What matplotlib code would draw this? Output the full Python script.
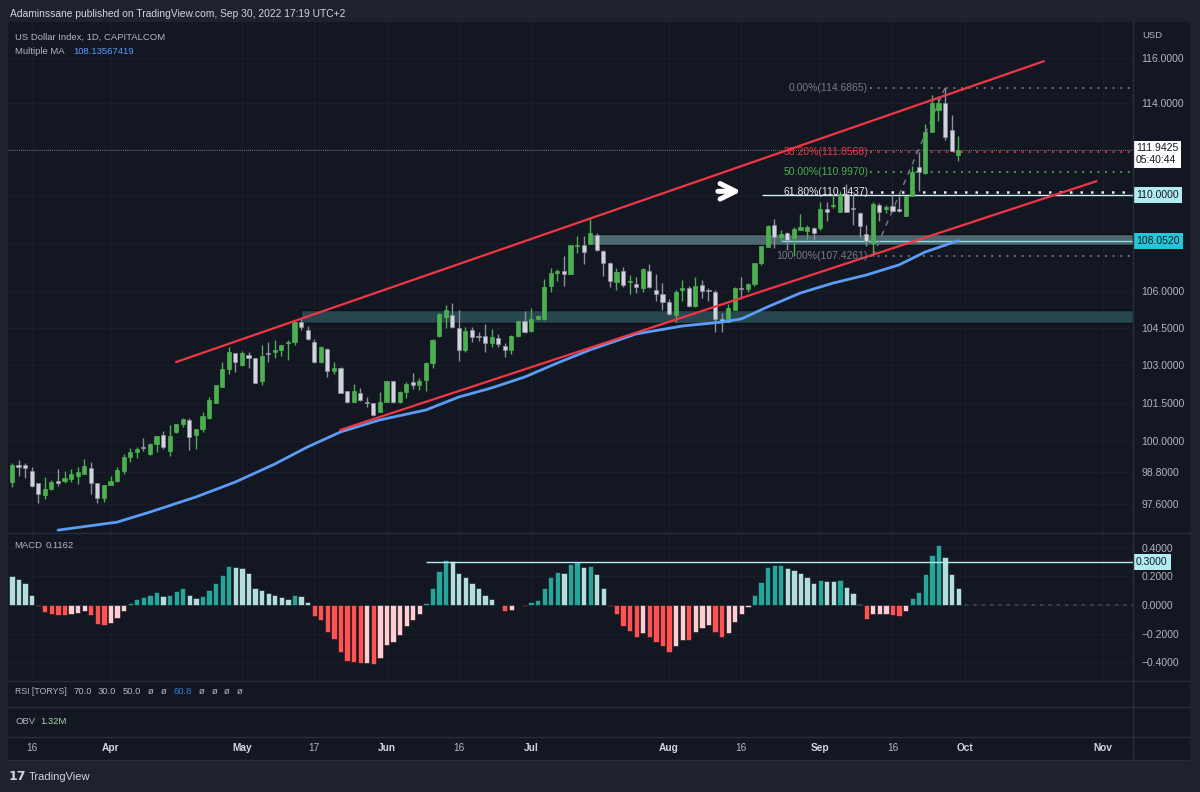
import matplotlib
matplotlib.use('Agg')
import matplotlib.pyplot as plt
import matplotlib.transforms as mtransforms
from matplotlib.patches import Rectangle
from matplotlib.lines import Line2D
from matplotlib.ticker import NullLocator
import pandas as pd

plt.rcParams['font.family'] = ['Liberation Sans', 'DejaVu Sans']

# ---- daily candles, US Dollar Index (CAPITALCOM), 11 Mar - 30 Sep 2022 ----
opens = [98.42, 99.07, 99.07, 98.84, 98.38, 97.93, 98.16, 98.46, 98.46, 98.54,
         98.65, 98.73, 98.96, 98.38, 97.81, 98.31, 98.46, 98.84, 99.38, 99.57,
         99.77, 99.5, 99.88, 100.23, 99.61, 100.35, 100.66, 100.82, 100.23, 100.47,
         100.9, 101.5, 102.12, 102.84, 103.48, 103.0, 103.4, 103.28, 102.36, 103.48,
         103.52, 103.6, 103.88, 103.92, 104.72, 104.4, 103.92, 103.1, 103.64, 102.76,
         102.88, 101.96, 101.52, 101.88, 101.52, 101.48, 101.14, 101.52, 102.36, 101.52,
         101.92, 102.32, 102.2, 102.4, 103.08, 104.16, 104.92, 105.0, 104.48, 103.6,
         104.4, 104.16, 104.16, 103.88, 104.08, 103.76, 103.6, 104.16, 104.76, 104.36,
         104.84, 104.84, 106.2, 106.74, 106.82, 106.7, 107.84, 107.9, 107.95, 108.32,
         107.66, 107.16, 106.36, 106.82, 106.36, 106.28, 106.12, 106.82, 106.03, 105.86,
         105.52, 105.0, 106.03, 106.12, 105.36, 106.24, 106.03, 105.94, 104.84, 104.72,
         105.2, 106.12, 106.07, 106.28, 107.16, 107.82, 108.75, 108.24, 108.4, 108.2,
         108.55, 108.5, 108.62, 108.62, 109.4, 109.53, 109.3, 110.04, 109.44, 109.26,
         108.36, 107.98, 109.58, 109.4, 109.53, 109.4, 109.13, 109.96, 111.2, 110.94,
         112.72, 113.7, 114.0, 112.84, 111.75]
highs = [99.15, 99.27, 99.15, 99.0, 98.38, 98.61, 98.5, 98.92, 98.84, 98.92,
         99.0, 99.3, 99.19, 98.38, 98.31, 98.65, 99.0, 99.5, 99.73, 99.77,
         100.12, 99.92, 100.2, 100.39, 100.62, 100.66, 100.9, 100.9, 100.47, 101.13,
         101.72, 102.2, 103.1, 103.7, 103.48, 103.56, 103.52, 103.28, 103.8, 103.92,
         104.0, 103.8, 104.0, 104.72, 104.9, 104.56, 104.04, 103.76, 103.68, 103.12,
         102.92, 101.96, 102.24, 102.08, 101.72, 101.48, 101.92, 102.36, 102.36, 101.96,
         102.32, 102.68, 102.48, 103.12, 104.04, 105.08, 105.4, 105.5, 105.2, 104.52,
         104.52, 104.3, 104.64, 104.44, 104.24, 103.88, 104.2, 104.76, 105.16, 105.28,
         105.0, 106.5, 106.95, 106.9, 107.45, 107.9, 108.28, 108.28, 109.0, 108.4,
         107.7, 107.2, 106.95, 106.98, 106.66, 106.57, 106.95, 107.12, 106.7, 106.32,
         105.68, 106.03, 106.45, 106.2, 106.57, 106.45, 106.12, 106.03, 105.08, 105.44,
         106.16, 106.57, 106.32, 107.16, 107.86, 108.75, 109.0, 108.55, 108.45, 108.66,
         109.2, 108.75, 108.66, 109.7, 109.7, 110.0, 110.17, 110.5, 110.0, 109.3,
         108.75, 109.7, 109.66, 109.58, 110.0, 109.96, 109.96, 111.25, 111.85, 113.1,
         114.35, 114.3, 114.69, 113.5, 112.56]
lows = [98.23, 98.65, 98.58, 98.23, 97.62, 97.78, 98.12, 98.27, 98.38, 98.42,
        98.35, 98.73, 97.96, 97.62, 97.66, 98.31, 98.42, 98.73, 99.19, 99.34,
        99.61, 99.46, 99.57, 99.69, 99.42, 100.31, 100.55, 99.65, 99.69, 100.35,
        100.86, 101.48, 102.12, 102.64, 102.72, 102.95, 102.88, 102.28, 102.2, 103.1,
        103.28, 103.36, 103.2, 103.8, 104.4, 104.0, 103.08, 103.08, 102.52, 102.64,
        101.88, 101.48, 101.52, 101.56, 101.32, 100.98, 101.14, 101.52, 101.48, 101.48,
        101.68, 102.04, 102.0, 101.96, 102.88, 104.12, 104.48, 104.48, 103.15, 103.52,
        103.92, 103.96, 103.52, 103.72, 103.72, 103.32, 103.44, 104.1, 104.28, 104.32,
        104.8, 104.8, 105.95, 106.4, 106.2, 106.7, 107.55, 107.12, 107.95, 107.66,
        106.6, 106.16, 106.03, 106.16, 105.86, 105.9, 105.95, 106.12, 105.6, 105.2,
        105.0, 104.72, 105.6, 105.32, 105.32, 105.7, 105.6, 104.32, 104.32, 104.72,
        105.2, 105.68, 105.94, 106.2, 107.08, 107.82, 107.78, 108.07, 107.7, 107.45,
        108.55, 108.07, 108.12, 108.55, 108.92, 109.48, 109.3, 109.3, 108.75, 108.24,
        107.86, 107.43, 108.92, 109.26, 109.3, 109.3, 109.13, 109.96, 110.2, 110.9,
        112.72, 113.2, 112.4, 111.9, 111.48]
closes = [99.07, 99.0, 98.96, 98.27, 97.96, 98.16, 98.42, 98.38, 98.58, 98.73,
          98.8, 99.04, 98.38, 97.81, 98.31, 98.46, 98.88, 99.38, 99.57, 99.69,
          99.73, 99.88, 100.2, 99.77, 100.2, 100.66, 100.86, 100.16, 100.47, 100.98,
          101.6, 102.2, 102.84, 103.52, 103.1, 103.48, 103.28, 102.28, 103.36, 103.44,
          103.6, 103.8, 103.92, 104.72, 104.52, 104.04, 103.1, 103.72, 102.76, 102.88,
          101.88, 101.52, 101.96, 101.6, 101.48, 101.0, 101.52, 102.36, 101.52, 101.92,
          102.24, 102.2, 102.36, 103.08, 104.0, 105.04, 105.2, 104.52, 103.6, 104.36,
          104.12, 104.12, 103.88, 104.12, 103.84, 103.6, 104.16, 104.76, 104.32, 104.84,
          104.96, 106.16, 106.74, 106.82, 106.7, 107.9, 107.88, 107.62, 108.4, 107.7,
          107.16, 106.4, 106.78, 106.24, 106.41, 106.16, 106.9, 106.16, 105.86, 105.52,
          105.04, 105.94, 106.12, 105.36, 106.2, 106.0, 105.99, 104.84, 104.72, 105.28,
          106.12, 106.07, 106.28, 107.16, 107.86, 108.7, 108.24, 108.36, 108.12, 108.56,
          108.66, 108.66, 108.4, 109.4, 109.3, 109.58, 110.04, 109.3, 109.4, 108.7,
          108.07, 109.62, 109.3, 109.5, 109.35, 109.35, 109.96, 111.0, 111.0, 112.72,
          114.0, 114.0, 112.5, 111.9, 111.94]

# Multiple MA line, read at a few bars
ma_idx = [7, 16, 21, 28, 34, 40, 45, 50, 56, 63, 68, 73, 78, 83, 88, 95,
          102, 108, 111, 115, 120, 125, 130, 135, 139, 144]
ma_val = [96.6, 96.9, 97.28, 97.85, 98.42, 99.11, 99.77, 100.35, 100.82, 101.21,
          101.72, 102.08, 102.51, 103.07, 103.6, 104.24, 104.56, 104.72, 104.85,
          105.34, 105.91, 106.32, 106.65, 107.07, 107.61, 108.08]

# MACD histogram per bar
macd_hist = [0.201, 0.183, 0.152, 0.073, -0.005, -0.047, -0.063, -0.07, -0.072, -0.063,
             -0.059, -0.04, -0.07, -0.133, -0.138, -0.126, -0.091, -0.04, 0.012, 0.042,
             0.056, 0.073, 0.091, 0.066, 0.073, 0.096, 0.117, 0.073, 0.051, 0.066,
             0.105, 0.154, 0.211, 0.276, 0.264, 0.26, 0.225, 0.119, 0.108, 0.087,
             0.07, 0.056, 0.042, 0.073, 0.061, 0.019, -0.08, -0.105, -0.192, -0.239,
             -0.328, -0.395, -0.398, -0.41, -0.405, -0.414, -0.372, -0.281, -0.257, -0.211,
             -0.15, -0.103, -0.066, 0.012, 0.117, 0.241, 0.316, 0.307, 0.222, 0.194,
             0.154, 0.117, 0.068, 0.042, 0.002, -0.04, -0.035, 0.002, -0.007, 0.019,
             0.033, 0.117, 0.194, 0.229, 0.225, 0.285, 0.3, 0.269, 0.274, 0.215,
             0.119, -0.005, -0.063, -0.145, -0.185, -0.222, -0.199, -0.227, -0.257, -0.285,
             -0.328, -0.285, -0.243, -0.246, -0.192, -0.159, -0.14, -0.187, -0.222, -0.199,
             -0.122, -0.063, -0.016, 0.07, 0.159, 0.264, 0.283, 0.284, 0.257, 0.248,
             0.225, 0.194, 0.152, 0.175, 0.168, 0.166, 0.175, 0.124, 0.084, 0.007,
             -0.098, -0.063, -0.062, -0.061, -0.07, -0.075, -0.044, 0.047, 0.089, 0.218,
             0.353, 0.421, 0.334, 0.218, 0.117]

# drawings
upper_line_idx = [25, 157]
upper_line_val = [103.11, 115.87]
lower_line_idx = [50, 165]
lower_line_val = [100.43, 110.6]
zone_start = [44, 88]
zone_low = [104.67, 107.9]
zone_high = [105.2, 108.36]
fib_labels = ['0.00%(114.6865)', '38.20%(111.8568)', '50.00%(110.9970)',
              '61.80%(110.1437)', '100.00%(107.4261)']
fib_values = [114.6865, 111.8568, 110.9970, 110.1437, 107.4261]
fib_colors = ['#787b86', '#f23645', '#4caf50', '#e8e9ed', '#787b86']
last_price = 111.9425
level_110 = 110.0
level_108 = 108.052
macd_level = 0.3

price_ticks = [97.6, 98.8, 100.0, 101.5, 103.0, 104.5, 106.0, 114.0, 116.0]
macd_ticks = [-0.4, -0.2, 0.0, 0.2, 0.4]
tick_dates = ['2022-03-16', '2022-04-01', '2022-05-02', '2022-05-17', '2022-06-01',
              '2022-06-16', '2022-07-01', '2022-08-01', '2022-08-16', '2022-09-01',
              '2022-09-16', '2022-10-03', '2022-11-01']
tick_labels = ['16', 'Apr', 'May', '17', 'Jun', '16', 'Jul', 'Aug', '16', 'Sep', '16', 'Oct', 'Nov']

# ---- colours ----
BG = '#131722'
OUTER = '#1e222d'
SEP = '#2a2e39'
TXT = '#b2b5be'
UP = '#4caf50'
DOWN = '#d1d4dc'
DOWN_EDGE = '#8d909a'
RED = '#f23645'
BLUE = '#5b9cf6'
FS = 6.8  # small legend text

W, H = 1200, 792


def fx(x):
    return x / W


def fy(y):
    return 1 - y / H


def rect(x0, y0, x1, y1):
    return [fx(x0), fy(y1), (x1 - x0) / W, (y1 - y0) / H]


days = pd.bdate_range('2022-03-11', '2022-11-30')
days = days[days != pd.Timestamp('2022-04-15')]
n = len(closes)
xs = list(range(n))
xmin, xmax = -0.6, 170.6

fig = plt.figure(figsize=(12, 7.92), dpi=100, facecolor=OUTER)
fig.add_artist(Rectangle((fx(8), fy(760)), fx(1190) - fx(8), fy(22) - fy(760),
                         transform=fig.transFigure, facecolor=BG, edgecolor='none', zorder=0))

ax = fig.add_axes(rect(8, 22, 1133, 532))
axm = fig.add_axes(rect(8, 533, 1133, 680), sharex=ax)
for a in (ax, axm):
    a.set_facecolor(BG)
    for s in a.spines.values():
        s.set_visible(False)
    a.yaxis.tick_right()
    a.tick_params(axis='y', length=0, pad=6, labelsize=7.5, labelcolor=TXT)
    a.tick_params(axis='x', length=0, labelbottom=False)

# ---- main price panel ----
ax.set_yscale('log')
ax.set_xlim(xmin, xmax)
ax.set_ylim(96.53, 117.65)
ax.yaxis.set_minor_locator(NullLocator())
ax.set_yticks(price_ticks)
ax.set_yticklabels(['%.4f' % v for v in price_ticks])

tick_pos = [days.get_loc(pd.Timestamp(d)) for d in tick_dates]
for p in tick_pos:
    ax.axvline(p, color='#1a1e2a', lw=0.8, zorder=0)
    axm.axvline(p, color='#1a1e2a', lw=0.8, zorder=0)
for v in price_ticks + [108.0, 110.0, 112.0]:
    ax.axhline(v, color='#1a1e2a', lw=0.8, zorder=0)

# zones
for s, lo, hi, fc in zip(zone_start, zone_low, zone_high, ['#27464f', '#4d6870']):
    ax.add_patch(Rectangle((s, lo), xmax - s, hi - lo, facecolor=fc,
                           edgecolor='#0c1014', lw=1.0, zorder=1))

# candles
for i in xs:
    o, h, l, c = opens[i], highs[i], lows[i], closes[i]
    up = c >= o
    ax.vlines(i, l, h, color=UP if up else DOWN_EDGE, lw=1.0, zorder=3)
    lo = min(o, c)
    hgt = max(abs(c - o), 0.03)
    ax.bar(i, hgt, bottom=lo, width=0.62, color=UP if up else DOWN,
           edgecolor=UP if up else DOWN_EDGE, lw=0.5, zorder=4)

# moving average and channel
ax.plot(ma_idx, ma_val, color=BLUE, lw=2.0, zorder=5, solid_capstyle='round')
ax.plot(upper_line_idx, upper_line_val, color=RED, lw=1.6, zorder=5)
ax.plot(lower_line_idx, lower_line_val, color=RED, lw=1.6, zorder=5)

# horizontal levels
ax.hlines(level_110, 114.2, xmax, color='#c9eef3', lw=1.0, zorder=2)
ax.hlines(level_108, 117, xmax, color='#8fd8e3', lw=1.0, zorder=2)
ax.axhline(last_price, color='#9598a1', lw=0.6, ls=(0, (1, 1.5)), zorder=2)

# fibonacci retracement
fib_x0 = 130.6
for lab, v, col in zip(fib_labels, fib_values, fib_colors):
    big = lab.startswith('61.80')
    ax.hlines(v, fib_x0, xmax, color=col, lw=1.8 if big else 1.3,
              linestyles=(0, (1, 3.2)), zorder=2)
    ax.text(fib_x0 - 0.3, v, lab, color=col, fontsize=7.5, ha='right', va='center', zorder=6)
ax.plot([131, 142], [fib_values[4], fib_values[0]], color='#787b86', lw=1.0,
        ls=(0, (4, 4)), zorder=3)

# arrow
ax.annotate('', xy=(111.4, 110.17), xytext=(107.0, 110.17),
            arrowprops=dict(arrowstyle='->', color='white', lw=3.6, mutation_scale=28),
            zorder=7)

# price axis tags
tagx = mtransforms.blended_transform_factory(fig.transFigure, ax.transData)
ax.text(fx(1136), 112.25, '111.9425\n05:40:44', transform=tagx, fontsize=7.5,
        color='#131722', va='top', ha='left', linespacing=1.25,
        bbox=dict(boxstyle='square,pad=0.25', fc='white', ec='none'), clip_on=False)
ax.text(fx(1136), level_110, '110.0000', transform=tagx, fontsize=7.5, color='#131722',
        va='center', ha='left', bbox=dict(boxstyle='square,pad=0.3', fc='#b2ebf2', ec='none'),
        clip_on=False)
ax.text(fx(1136), level_108, '108.0520', transform=tagx, fontsize=7.5, color='#131722',
        va='center', ha='left', bbox=dict(boxstyle='square,pad=0.3', fc='#26c6da', ec='none'),
        clip_on=False)

# ---- MACD panel ----
axm.set_ylim(-0.526, 0.505)
axm.set_yticks(macd_ticks)
axm.set_yticklabels([('%.4f' % v).replace('-', '\u2212') for v in macd_ticks])
for v in macd_ticks:
    axm.axhline(v, color='#1a1e2a', lw=0.8, zorder=0)
cols = []
for i, v in enumerate(macd_hist):
    prev = macd_hist[i - 1] if i > 0 else v
    if v >= 0:
        cols.append('#26a69a' if v > prev else '#b2dfdb')
    else:
        cols.append('#ff5252' if v < prev else '#ffcdd2')
axm.bar(xs, macd_hist, width=0.82, color=cols, edgecolor='#0f1218', lw=0.4, zorder=3)
axm.hlines(macd_level, 63, xmax, color='#b2ebf2', lw=1.0, zorder=4)
axm.hlines(0, n, xmax, color='#434651', lw=1.2, linestyles=(0, (2, 3)), zorder=2)
tagm = mtransforms.blended_transform_factory(fig.transFigure, axm.transData)
axm.text(fx(1136), macd_level, '0.3000', transform=tagm, fontsize=7.5, color='#131722',
         va='center', ha='left', bbox=dict(boxstyle='square,pad=0.3', fc='#b2ebf2', ec='none'),
         clip_on=False)

# ---- separators ----
for y in (532.5, 680.5, 706.5, 736.5):
    fig.add_artist(Line2D([fx(8), fx(1190)], [fy(y), fy(y)], color=SEP, lw=1.0))
fig.add_artist(Line2D([fx(1133), fx(1133)], [fy(22), fy(760)], color=SEP, lw=1.0))
fig.add_artist(Line2D([fx(8), fx(1190)], [fy(760), fy(760)], color=SEP, lw=1.0))

# ---- x axis labels ----
xt = mtransforms.blended_transform_factory(ax.transData, fig.transFigure)
for p, lab in zip(tick_pos, tick_labels):
    month = not lab.isdigit()
    fig.text(p, fy(748), lab, transform=xt, ha='center', va='center', fontsize=7.3,
             color='#d1d4dc' if month else TXT, fontweight='bold' if month else 'normal')

# ---- texts ----
fig.text(fx(10), fy(14), 'Adaminssane published on TradingView.com, Sep 30, 2022 17:19 UTC+2',
         color='#d1d4dc', fontsize=7.4, va='center')
fig.text(fx(15), fy(37), 'US Dollar Index, 1D, CAPITALCOM', color=TXT, fontsize=FS, va='center')
fig.text(fx(15), fy(52), 'Multiple MA', color=TXT, fontsize=FS, va='center')
fig.text(fx(73), fy(52), '108.13567419', color=BLUE, fontsize=FS, va='center')
fig.text(fx(1142), fy(36), 'USD', color=TXT, fontsize=FS, va='center')
fig.text(fx(14), fy(545), 'MACD', color=TXT, fontsize=FS, va='center')
fig.text(fx(46), fy(545), '0.1162', color=TXT, fontsize=FS, va='center')

rsi_parts = [('RSI [TORYS]', 15, TXT), ('70.0', 73, TXT), ('30.0', 98, TXT), ('50.0', 123, TXT),
             ('\u00f8', 148, TXT), ('\u00f8', 161, TXT), ('60.8', 173, '#2e7bd6'),
             ('\u00f8', 199, TXT), ('\u00f8', 212, TXT), ('\u00f8', 224, TXT), ('\u00f8', 237, TXT)]
for t, x, c in rsi_parts:
    fig.text(fx(x), fy(692), t, color=c, fontsize=6.3 if t.startswith('RSI') else FS,
             va='center')
fig.text(fx(15), fy(721), 'OBV', color=TXT, fontsize=FS, va='center')
fig.text(fx(40), fy(721), '1.32M', color='#a5d6a7', fontsize=FS, va='center')

fig.text(fx(9), fy(777), '17', color='#d1d4dc', fontsize=9, fontweight='heavy',
         va='center', family='DejaVu Sans')
fig.text(fx(29), fy(777), 'TradingView', color='#d1d4dc', fontsize=8, va='center')

fig.savefig('out.png', dpi=100, facecolor=OUTER)
